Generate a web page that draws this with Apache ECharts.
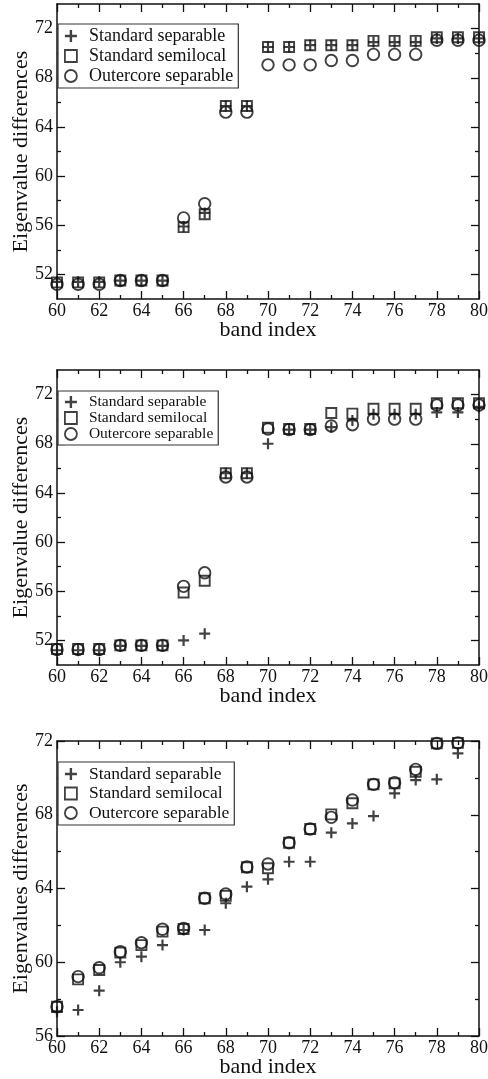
<!DOCTYPE html>
<html>
<head>
<meta charset="utf-8">
<script src="https://cdn.jsdelivr.net/npm/echarts@6/dist/echarts.min.js"></script>
<style>
  html, body { margin: 0; padding: 0; background: #fff; }
  #chart { width: 488px; height: 1079px; }
</style>
</head>
<body>
<div id="chart"></div>
<script>
  // band index for panels 1 and 2 (60..80) and panel 3 (60..79)
  const bandA = [60, 61, 62, 63, 64, 65, 66, 67, 68, 69, 70, 71, 72, 73, 74, 75, 76, 77, 78, 79, 80]
  const bandB = [60, 61, 62, 63, 64, 65, 66, 67, 68, 69, 70, 71, 72, 73, 74, 75, 76, 77, 78, 79]

  const seriesNames = ['Standard separable', 'Standard semilocal', 'Outercore separable']

  // panel 1
  const p1Sep = [51.4, 51.4, 51.4, 51.5, 51.5, 51.5, 55.9, 57.0, 65.7, 65.7, 70.5, 70.5, 70.65, 70.65, 70.65, 70.9, 70.9, 70.9, 71.2, 71.2, 71.2]
  const p1Semi = [51.35, 51.35, 51.35, 51.5, 51.5, 51.5, 55.85, 56.9, 65.7, 65.7, 70.5, 70.5, 70.65, 70.65, 70.65, 71.0, 71.0, 71.0, 71.3, 71.3, 71.3]
  const p1Outer = [51.2, 51.2, 51.2, 51.5, 51.5, 51.5, 56.6, 57.75, 65.2, 65.2, 69.05, 69.05, 69.05, 69.4, 69.4, 69.9, 69.9, 69.9, 71.05, 71.05, 71.05]

  // panel 2
  const p2Sep = [51.2, 51.2, 51.2, 51.55, 51.55, 51.55, 52.0, 52.55, 65.6, 65.6, 68.0, 69.15, 69.15, 69.35, 69.9, 70.4, 70.4, 70.4, 70.55, 70.55, 71.0]
  const p2Semi = [51.3, 51.3, 51.3, 51.6, 51.6, 51.6, 55.9, 56.85, 65.6, 65.6, 69.3, 69.2, 69.2, 70.5, 70.45, 70.85, 70.85, 70.85, 71.3, 71.3, 71.3]
  const p2Outer = [51.25, 51.25, 51.25, 51.6, 51.6, 51.6, 56.4, 57.5, 65.3, 65.3, 69.2, 69.15, 69.15, 69.45, 69.55, 70.0, 70.0, 70.0, 71.15, 71.15, 71.15]

  // panel 3
  const p3Sep = [57.32, 57.41, 58.46, 60.0, 60.3, 60.93, 61.75, 61.75, 63.2, 64.1, 64.5, 65.45, 65.45, 67.03, 67.53, 67.93, 69.16, 69.88, 69.92, 71.33]
  const p3Semi = [57.59, 59.07, 59.58, 60.52, 60.93, 61.66, 61.8, 63.47, 63.6, 65.15, 65.1, 66.48, 67.23, 68.02, 68.62, 69.65, 69.7, 70.33, 71.87, 71.9]
  const p3Outer = [57.59, 59.22, 59.7, 60.57, 61.06, 61.79, 61.84, 63.47, 63.7, 65.17, 65.33, 66.48, 67.23, 67.86, 68.8, 69.65, 69.74, 70.46, 71.87, 71.9]

  // tick labels
  const yTicksAB = [52, 56, 60, 64, 68, 72]
  const yMinorAB = [54, 58, 62, 66, 70]
  const yTicksC = [56, 60, 64, 68, 72]
  const yMinorC = [58, 62, 66, 70]

  const font = "'Liberation Serif', 'Times New Roman', serif"
  const ink = '#111'
  const plusIcon = 'path://M4,0h2v4h4v2h-4v4h-2v-4h-4v-2h4z'

  const panels = [
    { top: 4, band: bandA, ymin: 50, ymax: 74, major: yTicksAB, minor: yMinorAB, yname: 'Eigenvalue differences',
      data: [p1Sep, p1Semi, p1Outer], legendTop: 24, legendFont: 18, legendGap: 2 },
    { top: 370, band: bandA, ymin: 50, ymax: 74, major: yTicksAB, minor: yMinorAB, yname: 'Eigenvalue differences',
      data: [p2Sep, p2Semi, p2Outer], legendTop: 391, legendFont: 15.5, legendGap: 0 },
    { top: 741, band: bandB, ymin: 56, ymax: 72, major: yTicksC, minor: yMinorC, yname: 'Eigenvalues differences',
      data: [p3Sep, p3Semi, p3Outer], legendTop: 762, legendFont: 17.5, legendGap: 1.5 }
  ]

  const grid = [], xAxis = [], yAxis = [], series = [], legend = []
  const line = { show: true, lineStyle: { color: ink, width: 1.5 } }

  panels.forEach(function (p, g) {
    grid.push({ left: 57, right: 9, top: p.top, height: 295, outerBoundsMode: 'none' })
    ;['bottom', 'top'].forEach(function (pos) {
      xAxis.push({
        gridIndex: g, type: 'value', position: pos, min: 60, max: 80, interval: 2,
        axisLine: line,
        axisTick: { show: true, inside: true, length: 8, lineStyle: { color: ink, width: 1.3 } },
        minorTick: { show: true, splitNumber: 2, length: 4, lineStyle: { color: ink, width: 1.3 } },
        axisLabel: { show: pos === 'bottom', margin: 3, fontSize: 18, fontFamily: font, color: ink },
        splitLine: { show: false },
        name: pos === 'bottom' ? 'band index' : '',
        nameLocation: 'middle', nameGap: 20, nameMoveOverlap: false,
        nameTextStyle: { fontSize: 22, fontFamily: font, color: ink }
      })
    })
    ;['left', 'right'].forEach(function (pos) {
      yAxis.push({
        gridIndex: g, type: 'value', position: pos, min: p.ymin, max: p.ymax, interval: 2,
        axisLine: line,
        axisTick: { show: true, inside: true, length: 8, customValues: p.major, lineStyle: { color: ink, width: 1.3 } },
        axisLabel: { show: pos === 'left', customValues: p.major, margin: 4, fontSize: 18, fontFamily: font, color: ink },
        splitLine: { show: false },
        name: pos === 'left' ? p.yname : '',
        nameLocation: 'middle', nameGap: 25, nameMoveOverlap: false,
        nameTextStyle: { fontSize: 22, fontFamily: font, color: ink }
      })
      yAxis.push({
        gridIndex: g, type: 'value', position: pos, min: p.ymin, max: p.ymax, interval: 2,
        axisLine: { show: false },
        axisTick: { show: true, inside: true, length: 4, customValues: p.minor, lineStyle: { color: ink, width: 1.3 } },
        axisLabel: { show: false },
        splitLine: { show: false }
      })
    })

    const styles = [
      { symbol: plusIcon, size: 11, itemStyle: { color: ink, borderWidth: 0 } },
      { symbol: 'rect', size: 10, itemStyle: { color: 'rgba(0,0,0,0)', borderColor: ink, borderWidth: 1.9 } },
      { symbol: 'circle', size: 11.5, itemStyle: { color: 'rgba(0,0,0,0)', borderColor: ink, borderWidth: 1.9 } }
    ]
    seriesNames.forEach(function (name, k) {
      series.push({
        name: name, type: 'scatter', xAxisIndex: g * 2, yAxisIndex: g * 4,
        symbol: styles[k].symbol, symbolSize: styles[k].size,
        itemStyle: styles[k].itemStyle,
        data: p.band.map(function (b, i) { return [b, p.data[k][i]] }),
        emphasis: { disabled: true }
      })
    })

    legend.push({
      orient: 'vertical', left: 58, top: p.legendTop,
      padding: [3, 5, 3, 6], itemGap: p.legendGap, itemWidth: 12, itemHeight: 12,
      backgroundColor: '#fff', borderColor: '#333', borderWidth: 1.2, borderRadius: 0,
      selectedMode: false,
      textStyle: { fontSize: p.legendFont, fontFamily: font, color: ink, padding: [0, 0, 0, 7] },
      data: [
        { name: seriesNames[0], icon: plusIcon, itemStyle: { color: ink, borderWidth: 0 } },
        { name: seriesNames[1], icon: 'rect', itemStyle: { color: 'rgba(0,0,0,0)', borderColor: ink, borderWidth: 1.8 } },
        { name: seriesNames[2], icon: 'circle', itemStyle: { color: 'rgba(0,0,0,0)', borderColor: ink, borderWidth: 1.8 } }
      ]
    })
  })

  const chart = echarts.init(document.getElementById('chart'))
  chart.setOption({
    animation: false,
    backgroundColor: '#fff',
    grid: grid,
    xAxis: xAxis,
    yAxis: yAxis,
    legend: legend,
    series: series
  })
</script>
</body>
</html>
